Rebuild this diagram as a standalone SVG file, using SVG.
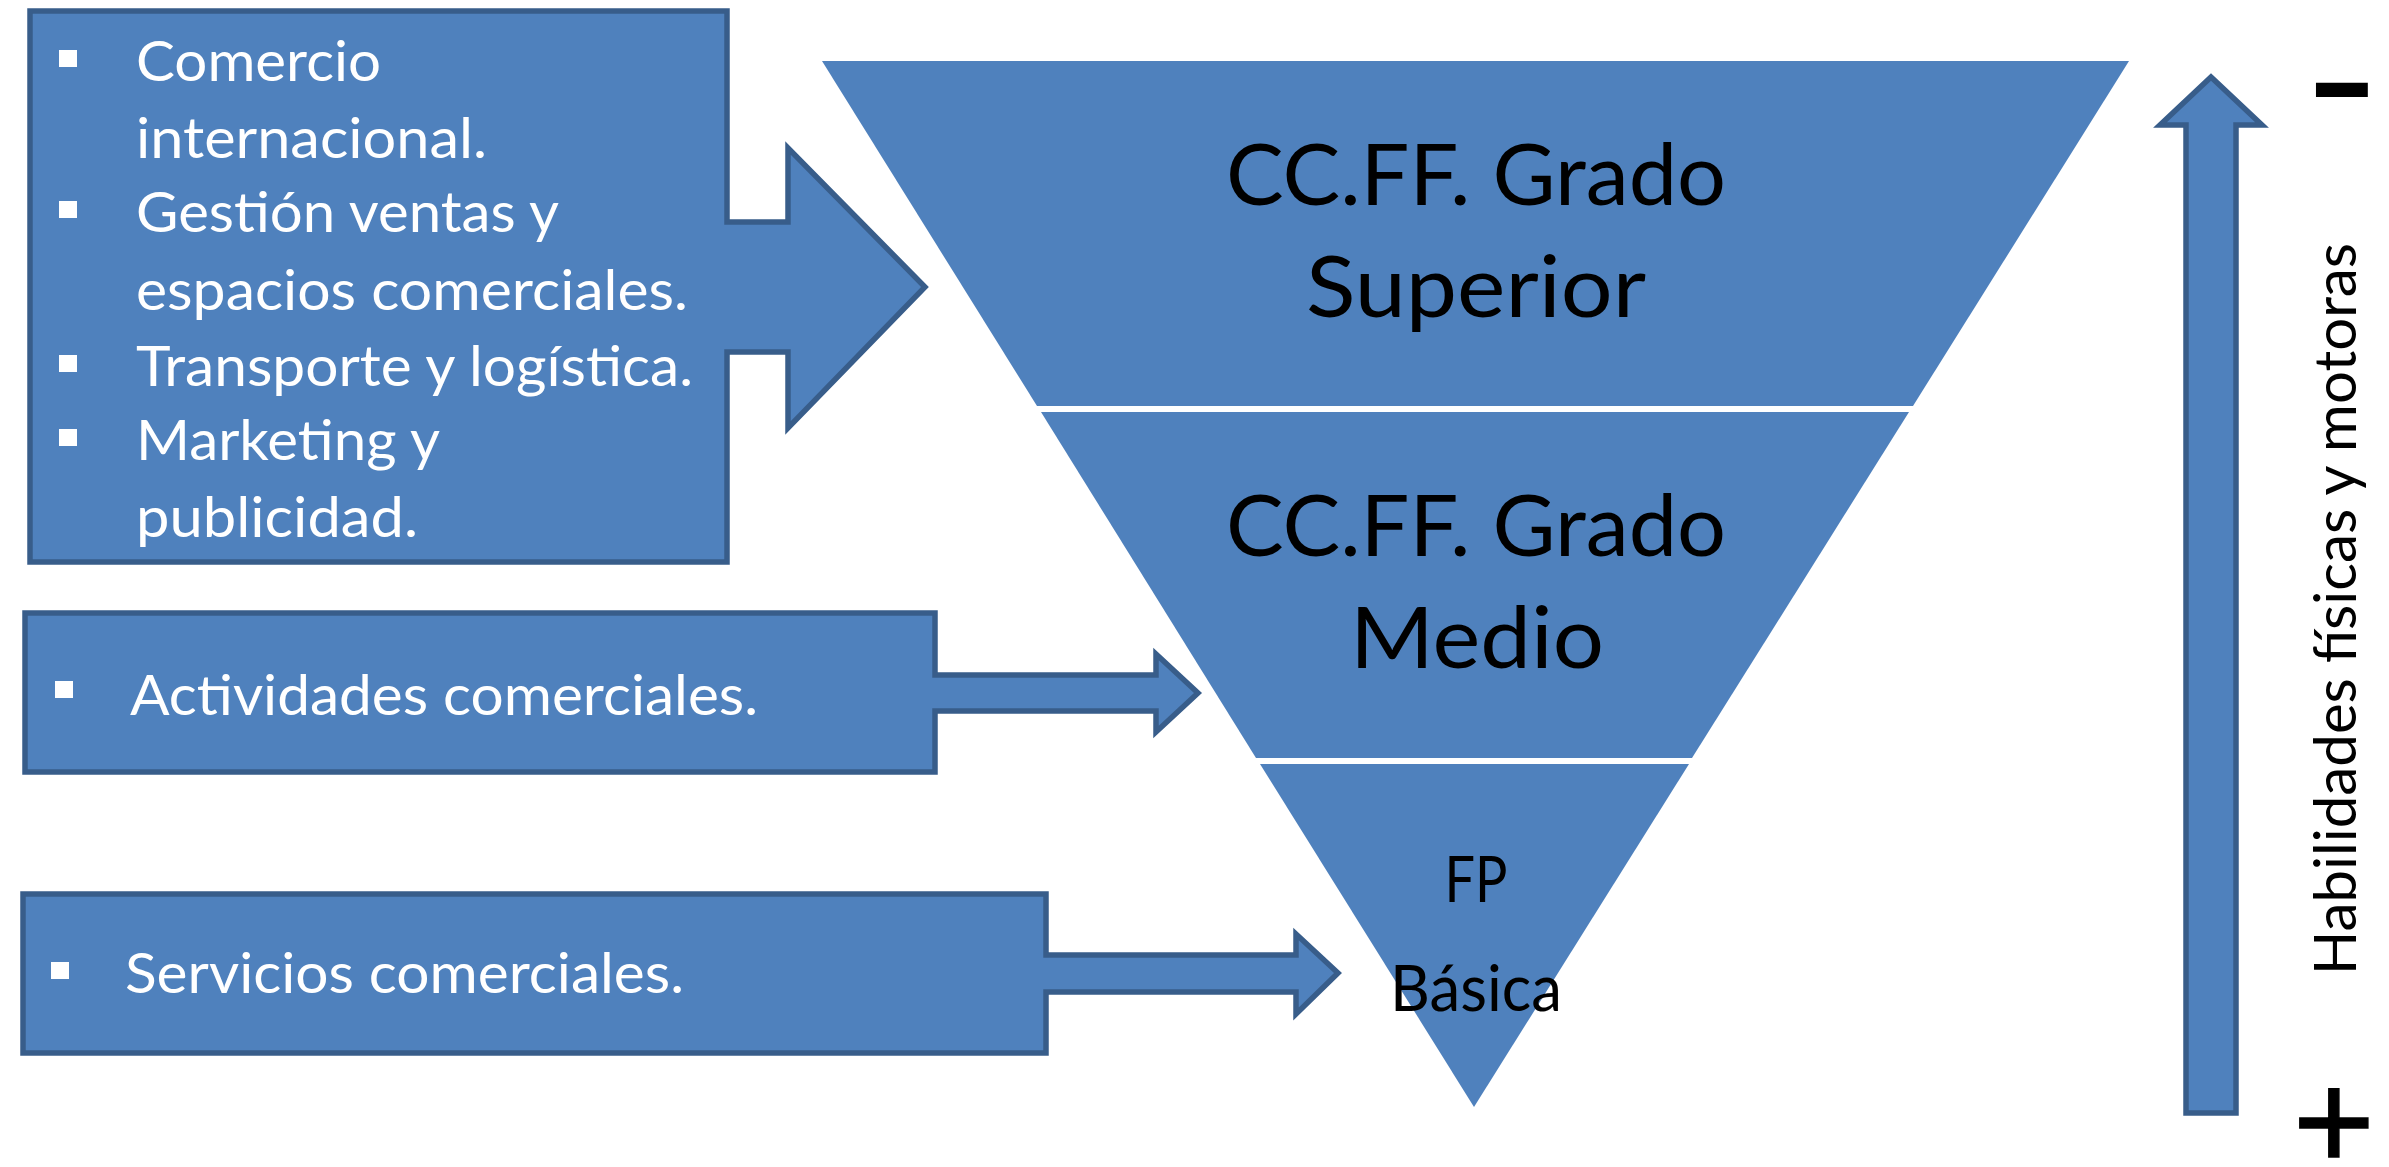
<svg xmlns="http://www.w3.org/2000/svg" width="2389" height="1167" viewBox="0 0 2389 1167">
<style>
.shape{fill:#4f81bd;stroke:#385d8a;stroke-width:5.5;stroke-linejoin:miter}
.tri{fill:#4f81bd}
.bt{font-family:Lato,"Open Sans",sans-serif;font-size:56px;fill:#ffffff}
.tt{font-family:Lato,"Open Sans",sans-serif;fill:#000000;text-anchor:middle}
.big{font-size:85px}
.mid{font-size:63px}
.bul{fill:#ffffff}
.vt{font-family:Lato,"Open Sans",sans-serif;font-size:59px;fill:#000000}
.sign{font-family:"Liberation Sans",Arial,sans-serif;fill:#000000;text-anchor:middle}
</style>
<rect width="2389" height="1167" fill="#ffffff"/>

<g id="node-box1">
<path class="shape" d="M30,11 H727 V222 H788 V148 L925,287 L788,428 V352 H727 V562 H30 Z"/>
<rect class="bul" x="59" y="50" width="18" height="17"/>
<rect class="bul" x="59" y="201" width="18" height="17"/>
<rect class="bul" x="59" y="355" width="18" height="17"/>
<rect class="bul" x="59" y="429" width="18" height="17"/>
<text class="bt" x="136" y="81" textLength="245" lengthAdjust="spacingAndGlyphs">Comercio</text>
<text class="bt" x="136" y="158" textLength="351" lengthAdjust="spacingAndGlyphs">internacional.</text>
<text class="bt" x="136" y="232" textLength="423" lengthAdjust="spacingAndGlyphs">Gestión ventas y</text>
<text class="bt" x="136" y="310" textLength="552" lengthAdjust="spacingAndGlyphs">espacios comerciales.</text>
<text class="bt" x="136" y="386" textLength="557" lengthAdjust="spacingAndGlyphs">Transporte y logística.</text>
<text class="bt" x="136" y="460" textLength="304" lengthAdjust="spacingAndGlyphs">Marketing y</text>
<text class="bt" x="136" y="537" textLength="282" lengthAdjust="spacingAndGlyphs">publicidad.</text>
</g>

<g id="node-box2">
<path class="shape" d="M25,613 H935 V675 H1156 V654 L1198,693 L1156,732 V711 H935 V772 H25 Z"/>
<rect class="bul" x="55" y="681" width="18" height="17"/>
<text class="bt" x="130" y="715" textLength="628" lengthAdjust="spacingAndGlyphs">Actividades comerciales.</text>
</g>

<g id="node-box3">
<path class="shape" d="M23,894 H1046 V955 H1296 V934 L1338,973 L1296,1014 V992 H1046 V1053 H23 Z"/>
<rect class="bul" x="51" y="962" width="18" height="17"/>
<text class="bt" x="125" y="993" textLength="559" lengthAdjust="spacingAndGlyphs">Servicios comerciales.</text>
</g>

<g id="node-superior">
<polygon class="tri" points="822,61 2129,61 1913,406 1037,406"/>
<text class="tt big" x="1476" y="205" textLength="500" lengthAdjust="spacingAndGlyphs">CC.FF. Grado</text>
<text class="tt big" x="1476" y="317" textLength="340" lengthAdjust="spacingAndGlyphs">Superior</text>
</g>

<g id="node-medio">
<polygon class="tri" points="1041,412 1909,412 1692,758 1256,758"/>
<text class="tt big" x="1476" y="556" textLength="500" lengthAdjust="spacingAndGlyphs">CC.FF. Grado</text>
<text class="tt big" x="1477" y="668" textLength="254" lengthAdjust="spacingAndGlyphs">Medio</text>
</g>

<g id="node-basica">
<polygon class="tri" points="1260,764 1689,764 1474,1107"/>
<text class="tt mid" x="1476" y="902" textLength="63" lengthAdjust="spacingAndGlyphs">FP</text>
<text class="tt mid" x="1476" y="1011" textLength="172" lengthAdjust="spacingAndGlyphs">Básica</text>
</g>

<g id="connectors">
<path class="shape" d="M2211,77 L2262,125 H2236 V1113 H2186 V125 H2160 Z"/>
</g>

<g id="node-axis-label">
<text class="vt" transform="translate(2356,975) rotate(-90)" x="0" y="0" textLength="732" lengthAdjust="spacingAndGlyphs">Habilidades físicas y motoras</text>
<text class="sign" x="2342" y="121" font-size="118" font-weight="bold" textLength="68" lengthAdjust="spacingAndGlyphs">-</text>
<text class="sign" x="2334" y="1169" font-size="140" stroke="#000000" stroke-width="1.5">+</text>
</g>
</svg>
